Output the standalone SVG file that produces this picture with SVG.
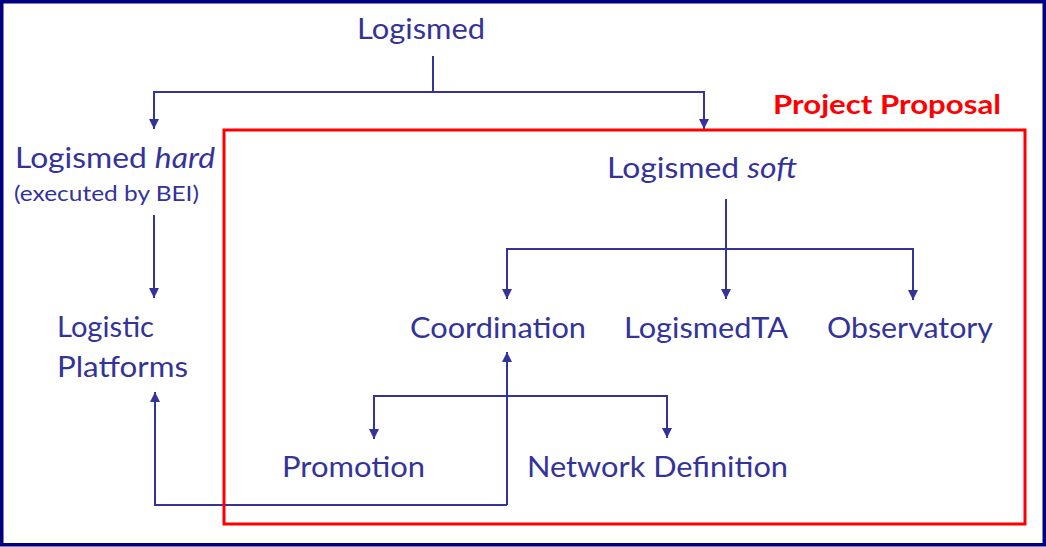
<svg xmlns="http://www.w3.org/2000/svg" width="1046" height="547" viewBox="0 0 1046 547">
<style>
.t{font-family:Lato,"Open Sans","Liberation Sans",sans-serif;fill:#333399;font-size:28px}
.s{font-size:21px}
.c{fill:none;stroke:#333399;stroke-width:2}
.pp{font-family:Lato,"Liberation Sans",sans-serif;font-weight:bold;fill:#ff0000;font-size:27px}
</style>
<defs>
<marker id="ah" markerUnits="userSpaceOnUse" markerWidth="10" markerHeight="10" refX="10" refY="5" orient="auto" viewBox="0 0 10 10">
<path d="M0,0 L10,5 L0,10 z" fill="#333399"/>
</marker>
</defs>
<rect x="1.75" y="1.75" width="1042.5" height="543" fill="#ffffff" stroke="#000080" stroke-width="3.5"/>
<g id="connectors">
<path class="c" d="M433,56 V92 H154 V129" marker-end="url(#ah)"/>
<path class="c" d="M433,92 H704 V129" marker-end="url(#ah)"/>
<path class="c" d="M154,215 V298" marker-end="url(#ah)"/>
<path class="c" d="M726,199 V249 H507 V299" marker-end="url(#ah)"/>
<path class="c" d="M726,249 V299" marker-end="url(#ah)"/>
<path class="c" d="M726,249 H913 V300" marker-end="url(#ah)"/>
<path class="c" d="M507,396 H374 V439" marker-end="url(#ah)"/>
<path class="c" d="M507,396 H667 V438" marker-end="url(#ah)"/>
<path class="c" d="M507,505 H155 V392" marker-end="url(#ah)"/>
<path class="c" d="M507,505 V352" marker-end="url(#ah)"/>
</g>
<g id="project-proposal">
<rect x="224" y="130" width="801" height="394" fill="none" stroke="#ff0000" stroke-width="3"/>
<text class="pp" x="773" y="114" textLength="228" lengthAdjust="spacingAndGlyphs">Project Proposal</text>
</g>
<g id="logismed"><text class="t" x="357" y="39" textLength="128" lengthAdjust="spacingAndGlyphs">Logismed</text></g>
<g id="logismed-hard">
<text class="t" x="15" y="168" textLength="200" lengthAdjust="spacingAndGlyphs">Logismed <tspan font-style="italic">hard</tspan></text>
<text class="t s" x="14" y="201" textLength="185" lengthAdjust="spacingAndGlyphs">(executed by BEI)</text>
</g>
<g id="logistic-platforms">
<text class="t" x="57" y="337" textLength="97" lengthAdjust="spacingAndGlyphs">Logistic</text>
<text class="t" x="57" y="377" textLength="131" lengthAdjust="spacingAndGlyphs">Platforms</text>
</g>
<g id="logismed-soft"><text class="t" x="607" y="178" textLength="190" lengthAdjust="spacingAndGlyphs">Logismed <tspan font-style="italic">soft</tspan></text></g>
<g id="coordination"><text class="t" x="410" y="338" textLength="176" lengthAdjust="spacingAndGlyphs">Coordination</text></g>
<g id="logismedta"><text class="t" x="624" y="338" textLength="164" lengthAdjust="spacingAndGlyphs">LogismedTA</text></g>
<g id="observatory"><text class="t" x="827" y="338" textLength="166" lengthAdjust="spacingAndGlyphs">Observatory</text></g>
<g id="promotion"><text class="t" x="282" y="477" textLength="143" lengthAdjust="spacingAndGlyphs">Promotion</text></g>
<g id="network-definition"><text class="t" x="527" y="477" textLength="261" lengthAdjust="spacingAndGlyphs">Network Definition</text></g>
</svg>
